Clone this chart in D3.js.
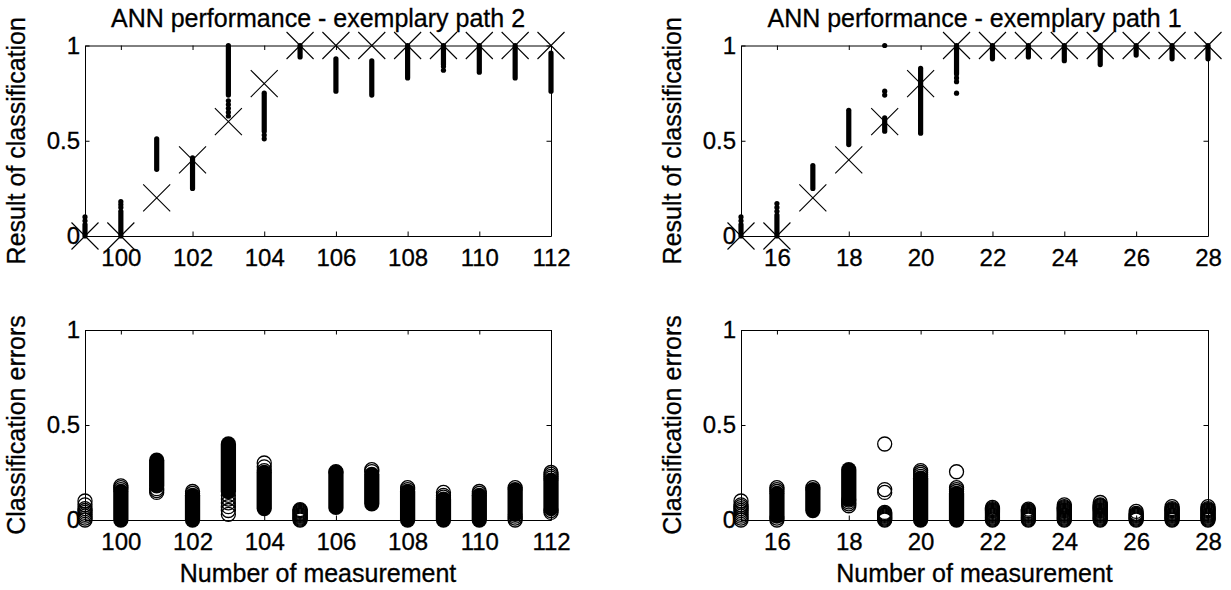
<!DOCTYPE html>
<html>
<head>
<meta charset="utf-8">
<script src="https://cdn.jsdelivr.net/npm/d3@7"></script>
<style>
  body { margin: 0; background: #fff; }
  text { font-family: "Liberation Sans", Arial, Helvetica, sans-serif; fill: #000; stroke: #000; stroke-width: 0.3px; }
</style>
</head>
<body>
<script>
const width = 1231;
const height = 590;

// ---- path 2 (left column) ----
const meas2 = [99, 100, 101, 102, 103, 104, 105, 106, 107, 108, 109, 110, 111, 112];
const ticks2 = [100, 102, 104, 106, 108, 110, 112];
const target2 = [0, 0, 0.2, 0.4, 0.6, 0.8, 1, 1, 1, 1, 1, 1, 1, 1];
// dense runs of classification results [low, high] and single results
const resRun2 = [[0, 0.06], [0, 0.13], [0.35, 0.51], [0.25, 0.41], [0.74, 1], [0.55, 0.75], [0.94, 1],
                 [0.76, 0.93], [0.74, 0.92], [0.83, 1], [0.9, 1], [0.86, 1], [0.83, 1], [0.76, 0.96]];
const resDot2 = [[0.08, 0.1], [0.15, 0.165, 0.18], [], [], [0.71, 0.69, 0.67, 0.65, 0.63], [0.53, 0.51], [],
                 [], [], [], [0.89, 0.87], [], [], []];
// classification errors: dense runs and single errors
const errRun2 = [null, [0, 0.15], [0.18, 0.315], [0, 0.13], [0.15, 0.4], [0.06, 0.25], null,
                 [0.066, 0.25], [0.085, 0.24], [0, 0.15], [0, 0.11], [0, 0.13], [0.03, 0.16], [0.06, 0.21]];
const errDot2 = [[0, 0.01, 0.02, 0.03, 0.04, 0.05, 0.06, 0.08, 0.1], [0.16, 0.17, 0.18], [0.145, 0.155, 0.165],
                 [0.14, 0.15], [0.03, 0.05, 0.07, 0.09, 0.11, 0.13], [0.26, 0.28, 0.3],
                 [0, 0.005, 0.01, 0.015, 0.02, 0.025, 0.03, 0.035, 0.04, 0.045, 0.05, 0.055],
                 [0.255], [0.255, 0.265], [0.16, 0.17], [0.12, 0.13, 0.145], [0.14, 0.15],
                 [0, 0.01, 0.02, 0.17], [0.04, 0.05, 0.22, 0.23, 0.24, 0.25]];

// ---- path 1 (right column) ----
const meas1 = [15, 16, 17, 18, 19, 20, 21, 22, 23, 24, 25, 26, 27, 28];
const ticks1 = [16, 18, 20, 22, 24, 26, 28];
const target1 = [0, 0, 0.2, 0.4, 0.6, 0.8, 1, 1, 1, 1, 1, 1, 1, 1];
const resRun1 = [[0, 0.06], [0, 0.11], [0.25, 0.37], [0.48, 0.66], [0.55, 0.62], [0.54, 0.88], [0.85, 1],
                 [0.93, 1], [0.94, 1], [0.92, 1], [0.9, 1], [0.95, 1], [0.93, 1], [0.93, 1]];
const resDot1 = [[0.08, 0.1], [0.13, 0.15, 0.17], [], [], [1, 0.76, 0.74], [], [0.83, 0.81, 0.75],
                 [], [], [], [], [], [], []];
const errRun1 = [null, [0.02, 0.14], [0.05, 0.16], [0.11, 0.265], null, [0, 0.22], [0, 0.14],
                 null, null, null, null, null, null, null];
const errDot1 = [[0, 0.01, 0.02, 0.03, 0.04, 0.05, 0.06, 0.07, 0.08, 0.1],
                 [0, 0.01, 0.15, 0.16, 0.17], [0.17], [0.075, 0.085, 0.095, 0.105],
                 [0, 0.005, 0.01, 0.015, 0.02, 0.025, 0.03, 0.035, 0.04, 0.145, 0.16, 0.4],
                 [0.23, 0.24, 0.25, 0.26], [0.15, 0.16, 0.17, 0.254],
                 [0, 0.005, 0.01, 0.015, 0.02, 0.025, 0.03, 0.035, 0.04, 0.045, 0.05, 0.055, 0.06, 0.066],
                 [0, 0.005, 0.01, 0.015, 0.02, 0.025, 0.03, 0.035, 0.04, 0.045, 0.05, 0.057],
                 [0, 0.005, 0.01, 0.015, 0.02, 0.025, 0.03, 0.035, 0.04, 0.045, 0.05, 0.055, 0.06, 0.065, 0.07, 0.08],
                 [0, 0.005, 0.01, 0.015, 0.02, 0.025, 0.03, 0.035, 0.04, 0.045, 0.05, 0.055, 0.06, 0.065, 0.07,
                  0.075, 0.08, 0.092],
                 [0, 0.005, 0.01, 0.015, 0.02, 0.025, 0.03, 0.035, 0.045],
                 [0, 0.005, 0.01, 0.015, 0.02, 0.025, 0.03, 0.035, 0.04, 0.045, 0.05, 0.055, 0.06, 0.07],
                 [0, 0.005, 0.01, 0.015, 0.02, 0.025, 0.03, 0.035, 0.04, 0.045, 0.05, 0.055, 0.06, 0.07]];

const yTicks = [0, 0.5, 1];

const svg = d3.select("body")
    .append("svg")
    .attr("width", width)
    .attr("height", height);

const tickLen = 4.5;

function makeAxes(box, xDomain, xTicks, opts) {
    const x = d3.scaleLinear().domain(xDomain).range([box.left, box.right]);
    const y = d3.scaleLinear().domain([0, 1]).range([box.bottom, box.top]);
    const g = svg.append("g");

    const fmt = d3.format("");
    const styleAxis = sel => {
        sel.selectAll("path, line").attr("stroke", "#000").attr("stroke-width", 1);
        sel.selectAll("text").attr("font-size", 24).attr("fill", "#000")
            .attr("font-family", "'Liberation Sans', Arial, sans-serif");
    };

    g.append("g").attr("transform", `translate(0,${box.bottom})`)
        .call(d3.axisBottom(x).tickValues(xTicks).tickSizeInner(-tickLen).tickSizeOuter(0)
            .tickPadding(13).tickFormat(fmt))
        .call(styleAxis);
    g.append("g").attr("transform", `translate(0,${box.top})`)
        .call(d3.axisTop(x).tickValues(xTicks).tickSizeInner(-tickLen).tickSizeOuter(0).tickFormat(""))
        .call(styleAxis);
    g.append("g").attr("transform", `translate(${box.left},0)`)
        .call(d3.axisLeft(y).tickValues(yTicks).tickSizeInner(-tickLen).tickSizeOuter(0)
            .tickPadding(5).tickFormat(fmt))
        .call(styleAxis);
    g.append("g").attr("transform", `translate(${box.right},0)`)
        .call(d3.axisRight(y).tickValues(yTicks).tickSizeInner(-tickLen).tickSizeOuter(0).tickFormat(""))
        .call(styleAxis);

    if (opts.title) {
        svg.append("text")
            .attr("x", (box.left + box.right) / 2).attr("y", 27)
            .attr("text-anchor", "middle").attr("font-size", 25)
            .text(opts.title);
    }
    svg.append("text")
        .attr("transform", `translate(${box.left - 60},${(box.top + box.bottom) / 2}) rotate(-90)`)
        .attr("text-anchor", "middle").attr("font-size", 25)
        .text(opts.ylabel);
    if (opts.xlabel) {
        svg.append("text")
            .attr("x", (box.left + box.right) / 2).attr("y", box.bottom + 62)
            .attr("text-anchor", "middle").attr("font-size", 25)
            .text(opts.xlabel);
    }
    return { x, y };
}

function drawResults(box, xDomain, xTicks, meas, target, runs, dots, title) {
    const s = makeAxes(box, xDomain, xTicks, { title: title, ylabel: "Result of classification" });
    const g = svg.append("g");
    const dotR = 2.6;

    // dense runs of results
    meas.forEach((m, i) => {
        const r = runs[i];
        if (!r) return;
        g.append("line")
            .attr("x1", s.x(m)).attr("x2", s.x(m))
            .attr("y1", s.y(r[0])).attr("y2", s.y(r[1]))
            .attr("stroke", "#000").attr("stroke-width", dotR * 2).attr("stroke-linecap", "round");
    });
    // single results
    meas.forEach((m, i) => {
        g.selectAll(null).data(dots[i]).enter().append("circle")
            .attr("cx", s.x(m)).attr("cy", d => s.y(d)).attr("r", dotR)
            .attr("fill", "#000");
    });
    // target crosses
    const h = 13.5;
    g.selectAll(null).data(meas).enter().append("path")
        .attr("d", (m, i) => {
            const cx = s.x(m), cy = s.y(target[i]);
            return `M${cx - h},${cy - h}L${cx + h},${cy + h}M${cx - h},${cy + h}L${cx + h},${cy - h}`;
        })
        .attr("stroke", "#000").attr("stroke-width", 1.1).attr("fill", "none");
}

function drawErrors(box, xDomain, xTicks, meas, runs, dots) {
    const s = makeAxes(box, xDomain, xTicks, { ylabel: "Classification errors", xlabel: "Number of measurement" });
    const g = svg.append("g");
    const r = 7, sw = 1.3;

    meas.forEach((m, i) => {
        const run = runs[i];
        if (!run) return;
        const R = r + sw / 2;
        g.append("rect")
            .attr("x", s.x(m) - R).attr("width", 2 * R)
            .attr("y", s.y(run[1]) - R).attr("height", s.y(run[0]) - s.y(run[1]) + 2 * R)
            .attr("rx", R).attr("ry", R)
            .attr("fill", "#000");
    });
    meas.forEach((m, i) => {
        g.selectAll(null).data(dots[i]).enter().append("circle")
            .attr("cx", s.x(m)).attr("cy", d => s.y(d)).attr("r", r)
            .attr("fill", "none").attr("stroke", "#000").attr("stroke-width", sw);
    });
}

const leftCol = { left: 85, right: 551 };
const rightCol = { left: 741, right: 1208 };
const topRow = { top: 45.5, bottom: 236 };
const botRow = { top: 330, bottom: 520 };

drawResults(Object.assign({}, leftCol, topRow), [99, 112], ticks2, meas2, target2, resRun2, resDot2,
            "ANN performance - exemplary path 2");
drawResults(Object.assign({}, rightCol, topRow), [15, 28], ticks1, meas1, target1, resRun1, resDot1,
            "ANN performance - exemplary path 1");
drawErrors(Object.assign({}, leftCol, botRow), [99, 112], ticks2, meas2, errRun2, errDot2);
drawErrors(Object.assign({}, rightCol, botRow), [15, 28], ticks1, meas1, errRun1, errDot1);
</script>
</body>
</html>
